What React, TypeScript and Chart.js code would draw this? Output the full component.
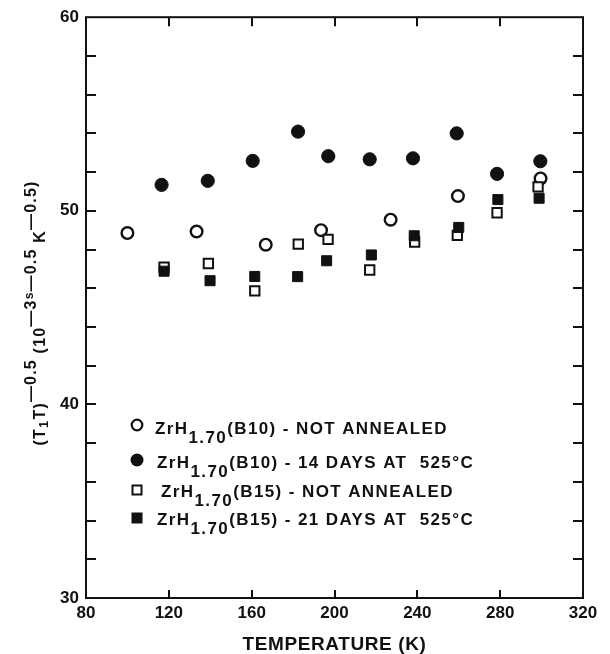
import React, { useEffect, useRef } from 'react';
import { Chart, registerables } from 'chart.js';

Chart.register(...registerables);

// ---- data ----
const X_OPEN_B10 = [100, 133.4, 166.8, 193.5, 227.1, 259.6, 299.5];
const Y_OPEN_B10 = [48.85, 48.93, 48.25, 49.0, 49.54, 50.76, 51.67];

const X_FILL_B10 = [116.5, 138.8, 160.5, 182.4, 197.0, 217.0, 237.9, 259.0, 278.5, 299.4];
const Y_FILL_B10 = [51.34, 51.55, 52.58, 54.09, 52.82, 52.66, 52.71, 54.0, 51.91, 52.56];

const X_OPEN_B15 = [117.7, 139.1, 161.5, 182.5, 196.9, 217.0, 238.7, 259.3, 278.5, 298.3];
const Y_OPEN_B15 = [47.09, 47.28, 45.86, 48.28, 48.52, 46.94, 48.39, 48.73, 49.9, 51.24];

const X_FILL_B15 = [117.7, 139.9, 161.5, 182.2, 196.2, 217.8, 238.5, 260.0, 278.9, 298.8];
const Y_FILL_B15 = [46.88, 46.39, 46.61, 46.6, 47.42, 47.72, 48.71, 49.14, 50.58, 50.65];

const X_MIN = 80, X_MAX = 320, X_STEP = 40;
const Y_MIN = 30, Y_MAX = 60, Y_STEP = 2, Y_LABEL_EVERY = 10;

const LEGEND_FORMULA = 'ZrH';
const LEGEND_SUB = '1.70';
const LEGEND_SUFFIX = [
  '(B10) - NOT ANNEALED',
  '(B10) - 14 DAYS AT  525°C',
  '(B15) - NOT ANNEALED',
  '(B15) - 21 DAYS AT  525°C',
];
const X_TITLE = 'TEMPERATURE (K)';
// y title pieces: [text, kind]
const Y_TITLE: [string, string][] = [
  ['(T', 'n'], ['1', 'sub'], ['T)', 'n'], ['—0.5', 'sup'], [' (10', 'n'], ['—3', 'sup'],
  ['s', 'small'], ['—0.5', 'sup'], [' K', 'n'], ['—0.5', 'sup'], [')', 'sup'],
];

const FONT = '"Liberation Sans", Arial, sans-serif';
const INK = '#111';

const toPts = (xs: number[], ys: number[]) => xs.map((x, i) => ({ x, y: ys[i] }));

const decorPlugin = {
  id: 'decor',
  afterDraw(chart: any) {
    const { ctx, chartArea: a, scales } = chart;
    const xs = scales.x, ys = scales.y;
    ctx.save();
    // frame
    ctx.strokeStyle = INK;
    ctx.lineWidth = 2;
    ctx.strokeRect(a.left, a.top, a.right - a.left, a.bottom - a.top);
    // inner ticks
    ctx.lineWidth = 2;
    ctx.beginPath();
    for (let v = Y_MIN + Y_STEP; v < Y_MAX; v += Y_STEP) {
      const py = Math.round(ys.getPixelForValue(v));
      ctx.moveTo(a.left, py); ctx.lineTo(a.left + 10, py);
      ctx.moveTo(a.right, py); ctx.lineTo(a.right - 10, py);
    }
    for (let v = X_MIN + X_STEP; v < X_MAX; v += X_STEP) {
      const px = Math.round(xs.getPixelForValue(v));
      ctx.moveTo(px, a.top); ctx.lineTo(px, a.top + 9);
      ctx.moveTo(px, a.bottom); ctx.lineTo(px, a.bottom - 8);
    }
    ctx.stroke();

    // legend
    const rowsMarkerY = [425, 460, 490, 518];
    const rowsBase = [434, 468, 497, 525];
    const rowsTextX = [155, 157, 161, 157];
    const mx = 137;
    ctx.fillStyle = INK;
    ctx.strokeStyle = INK;
    // open circle
    ctx.lineWidth = 2.2;
    ctx.beginPath(); ctx.arc(mx, rowsMarkerY[0], 5.3, 0, Math.PI * 2); ctx.stroke();
    // filled circle
    ctx.beginPath(); ctx.arc(mx, rowsMarkerY[1], 6.5, 0, Math.PI * 2); ctx.fill();
    // open square
    ctx.lineWidth = 2;
    ctx.strokeRect(mx - 4.5, rowsMarkerY[2] - 4.5, 9, 9);
    // filled square
    ctx.fillRect(mx - 5.5, rowsMarkerY[3] - 5.5, 11, 11);

    ctx.font = `bold 17px ${FONT}`;
    (ctx as any).letterSpacing = '1.4px';
    ctx.textBaseline = 'alphabetic';
    ctx.textAlign = 'left';
    LEGEND_SUFFIX.forEach((suf, i) => {
      let x = rowsTextX[i];
      const b = rowsBase[i];
      ctx.fillText(LEGEND_FORMULA, x, b);
      x += ctx.measureText(LEGEND_FORMULA).width;
      ctx.fillText(LEGEND_SUB, x, b + 9);
      x += ctx.measureText(LEGEND_SUB).width;
      ctx.fillText(suf, x, b);
    });

    // x title
    ctx.font = `bold 19px ${FONT}`;
    (ctx as any).letterSpacing = '0.6px';
    ctx.textAlign = 'center';
    ctx.textBaseline = 'middle';
    ctx.fillText(X_TITLE, (a.left + a.right) / 2, 645);

    // y title (rotated)
    ctx.textAlign = 'left';
    ctx.textBaseline = 'alphabetic';
    (ctx as any).letterSpacing = '1.2px';
    const fontFor = (k: string) =>
      k === 'sub' ? `bold 13px ${FONT}` : k === 'small' ? `bold 12px ${FONT}` : `bold 16px ${FONT}`;
    const dyFor = (k: string) => (k === 'sub' ? 3 : k === 'sup' ? -9 : k === 'small' ? -12 : 0);
    let total = 0;
    Y_TITLE.forEach(([t, k]) => { ctx.font = fontFor(k); total += ctx.measureText(t).width; });
    ctx.translate(45, 313);
    ctx.rotate(-Math.PI / 2);
    let u = -total / 2;
    Y_TITLE.forEach(([t, k]) => {
      ctx.font = fontFor(k);
      ctx.fillText(t, u, dyFor(k));
      u += ctx.measureText(t).width;
    });
    ctx.restore();
  },
};

export default function App() {
  const ref = useRef<HTMLCanvasElement>(null);
  useEffect(() => {
    if (!ref.current) return;
    const tickFont = { family: FONT, size: 17, weight: 'bold' as const };
    const chart = new Chart(ref.current, {
      type: 'scatter',
      data: {
        datasets: [
          {
            label: 'open B10', data: toPts(X_OPEN_B10, Y_OPEN_B10), order: 3,
            pointStyle: 'circle', pointRadius: 5.8, borderWidth: 2.4,
            borderColor: INK, backgroundColor: '#fff',
          },
          {
            label: 'filled B10', data: toPts(X_FILL_B10, Y_FILL_B10), order: 2,
            pointStyle: 'circle', pointRadius: 6.6, borderWidth: 1,
            borderColor: INK, backgroundColor: INK,
          },
          {
            label: 'open B15', data: toPts(X_OPEN_B15, Y_OPEN_B15), order: 1,
            pointStyle: 'rect', pointRadius: 6.6, borderWidth: 2,
            borderColor: INK, backgroundColor: '#fff',
          },
          {
            label: 'filled B15', data: toPts(X_FILL_B15, Y_FILL_B15), order: 0,
            pointStyle: 'rect', pointRadius: 7.1, borderWidth: 1,
            borderColor: INK, backgroundColor: INK,
          },
        ],
      },
      options: {
        animation: false,
        responsive: true,
        maintainAspectRatio: false,
        layout: { padding: { top: 16, right: 27, left: 0, bottom: 0 } },
        plugins: { legend: { display: false }, tooltip: { enabled: false } },
        scales: {
          x: {
            type: 'linear', min: X_MIN, max: X_MAX,
            ticks: { stepSize: X_STEP, font: tickFont, color: INK, padding: 5, maxRotation: 0 },
            grid: { display: false, drawTicks: false },
            border: { display: false },
            afterFit: (s: any) => { s.height = 56; },
          },
          y: {
            type: 'linear', min: Y_MIN, max: Y_MAX,
            ticks: {
              stepSize: Y_STEP, font: tickFont, color: INK, padding: 7,
              callback: (v: any) => (Number(v) % Y_LABEL_EVERY === 0 ? String(v) : ''),
            },
            grid: { display: false, drawTicks: false },
            border: { display: false },
            afterFit: (s: any) => { s.width = 86; },
          },
        },
      },
      plugins: [decorPlugin],
    });
    return () => chart.destroy();
  }, []);
  return (
    <div style={{ position: 'absolute', left: 0, top: 0, width: 610, height: 654, background: '#fff' }}>
      <canvas ref={ref} />
    </div>
  );
}
